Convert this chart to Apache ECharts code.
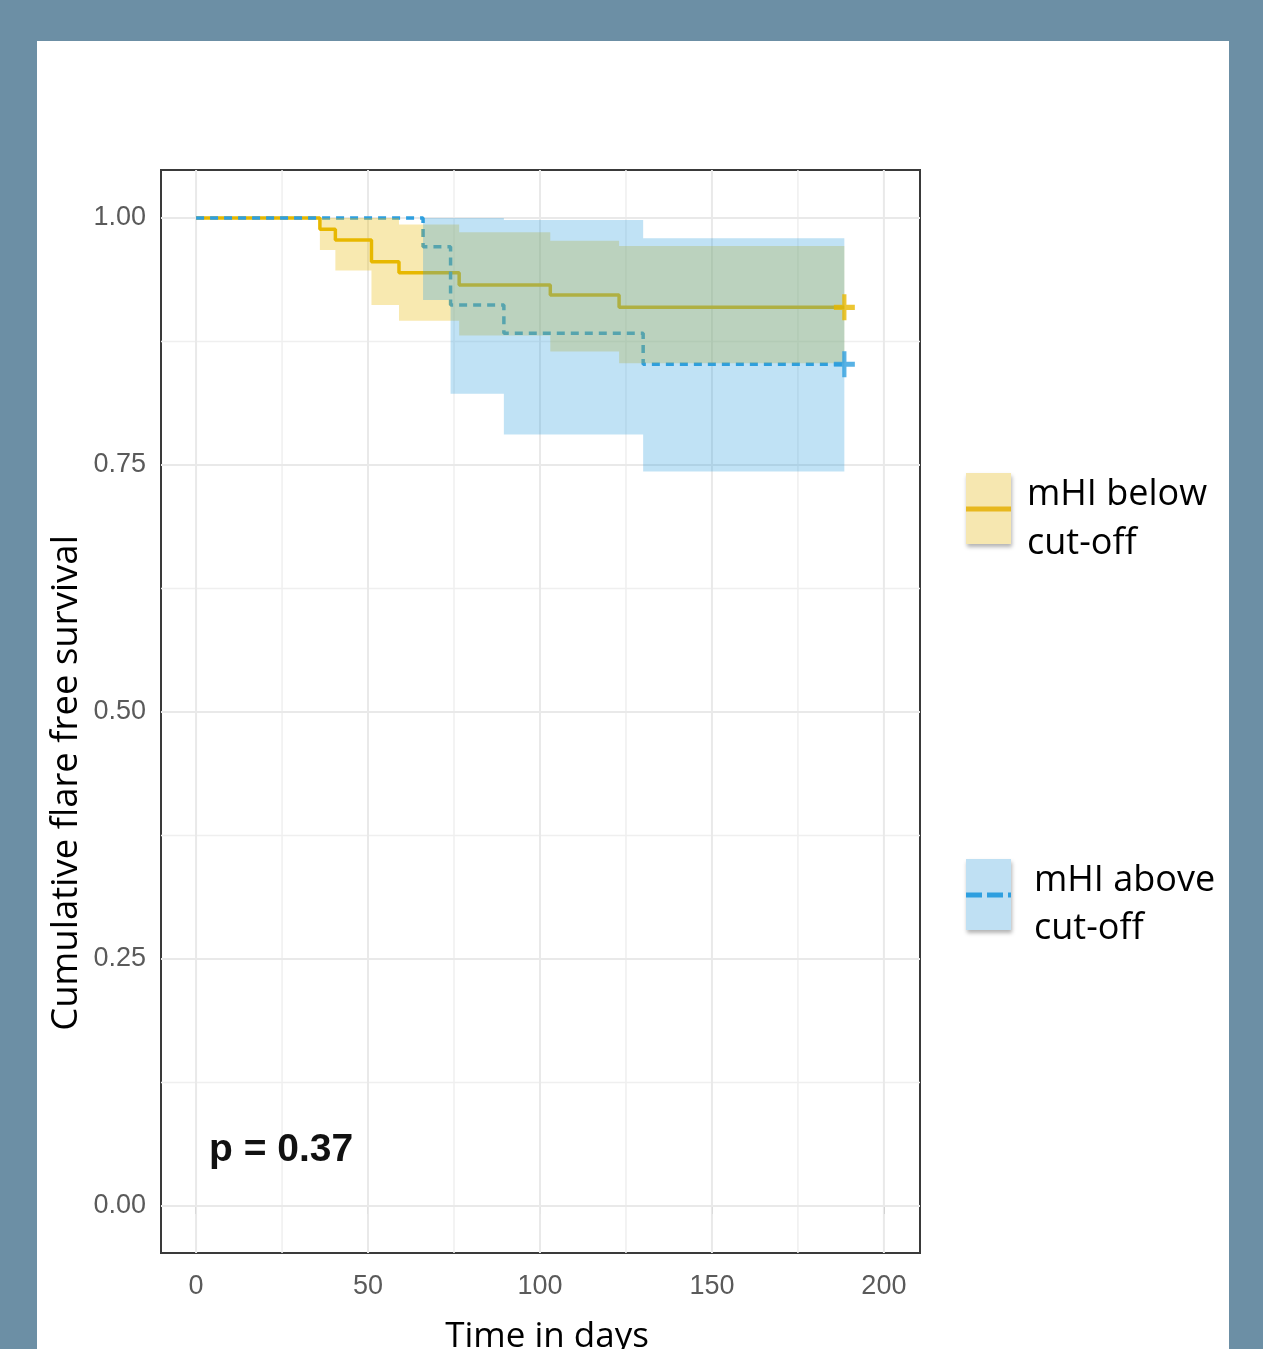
<!DOCTYPE html>
<html><head><meta charset="utf-8">
<script src="https://cdn.jsdelivr.net/npm/echarts@6/dist/echarts.min.js"></script>
<style>
html,body{margin:0;padding:0;background:#6c8fa5;width:1263px;height:1349px;overflow:hidden;}
#panel{position:absolute;left:37px;top:41px;width:1192px;height:1308px;background:#fff;}
#chart{position:absolute;left:0;top:0;width:1263px;height:1349px;}
</style></head><body>
<div id="panel"></div><div id="chart"></div>
<script>
// ---- data ----
const belowTimes = [0, 36, 40.5, 51, 59, 76.5, 103, 123, 188.5];
const belowSurv  = [1, 0.9886, 0.9777, 0.9558, 0.9446, 0.9322, 0.922, 0.9096, 0.9096];
const belowUpper = [1, 1, 1, 1, 0.9935, 0.9855, 0.977, 0.9717, 0.9717];
const belowLower = [1, 0.9676, 0.947, 0.912, 0.896, 0.881, 0.865, 0.853, 0.853];

const aboveTimes = [0, 66, 74, 89.5, 130, 188.5];
const aboveSurv  = [1, 0.971, 0.912, 0.8833, 0.852, 0.852];
const aboveUpper = [1, 1, 1, 0.998, 0.9795, 0.9795];
const aboveLower = [1, 0.917, 0.822, 0.781, 0.7435, 0.7435];

const censorTime = 188.5;

const xMajorTicks = [0, 50, 100, 150, 200];
const xMinorTicks = [25, 75, 125, 175];
const yMajorTicks = [0, 0.25, 0.5, 0.75, 1];
const yMinorTicks = [0.125, 0.375, 0.625, 0.875];
const yTickLabels = ['0.00', '0.25', '0.50', '0.75', '1.00'];

const seriesNames = ['mHI below cut-off', 'mHI above cut-off'];
const pValueText = 'p = 0.37';
const xTitle = 'Time in days';
const yTitle = 'Cumulative flare free survival';

// ---- styling ----
const X_MIN = -10.2, X_MAX = 210.5, Y_MIN = -0.0476, Y_MAX = 1.0486;
const YELLOW = '#E7B800', BLUE = '#2E9FDF';
const YELLOW_BAND = 'rgba(231,184,0,0.31)', BLUE_BAND = 'rgba(46,159,223,0.30)';
const TICK_FONT = "'Liberation Sans Narrow','Liberation Sans',Arial,sans-serif";
const TEXT_FONT = "'Open Sans','Noto Sans',sans-serif";

function pairs(ts, vs) { return ts.map((t, i) => [t, vs[i]]); }

function bandRender(times, upper, lower, color) {
  return function (params, api) {
    const pts = [];
    for (let i = 0; i < times.length - 1; i++) {
      pts.push(api.coord([times[i], upper[i]]));
      pts.push(api.coord([times[i + 1], upper[i]]));
    }
    for (let i = times.length - 2; i >= 0; i--) {
      pts.push(api.coord([times[i + 1], lower[i]]));
      pts.push(api.coord([times[i], lower[i]]));
    }
    return { type: 'polygon', shape: { points: pts }, style: { fill: color } };
  };
}

function vGrid(width, color) {
  return function (params, api) {
    const v = api.value(0);
    const a = api.coord([v, Y_MIN]), b = api.coord([v, Y_MAX]);
    return { type: 'line', shape: { x1: a[0], y1: a[1], x2: b[0], y2: b[1] }, style: { stroke: color, lineWidth: width } };
  };
}
function hGrid(width, color) {
  return function (params, api) {
    const v = api.value(1);
    const a = api.coord([X_MIN, v]), b = api.coord([X_MAX, v]);
    return { type: 'line', shape: { x1: a[0], y1: a[1], x2: b[0], y2: b[1] }, style: { stroke: color, lineWidth: width } };
  };
}

const plusPath = 'path://M0,4H10V6H0Z M4,0H6V10H4Z';

const chart = echarts.init(document.getElementById('chart'), null, { renderer: 'canvas' });
chart.setOption({
  backgroundColor: 'transparent',
  animation: false,
  grid: { left: 161, top: 170, right: 343, bottom: 96, show: true, borderColor: '#3a3a3a', borderWidth: 2, backgroundColor: 'transparent' },
  xAxis: {
    type: 'value', min: X_MIN, max: X_MAX,
    axisLine: { show: false },
    splitLine: { show: false },
    axisTick: { show: true, customValues: xMajorTicks, length: 8, lineStyle: { color: '#333', width: 2 } },
    axisLabel: { customValues: xMajorTicks, margin: 20, color: '#5a5a5a', fontFamily: TICK_FONT, fontSize: 27 }
  },
  yAxis: {
    type: 'value', min: Y_MIN, max: Y_MAX,
    axisLine: { show: false },
    splitLine: { show: false },
    axisTick: { show: true, customValues: yMajorTicks, length: 8, lineStyle: { color: '#333', width: 2 } },
    axisLabel: {
      customValues: yMajorTicks, margin: 15, color: '#5a5a5a', fontFamily: TICK_FONT, fontSize: 27,
      padding: [6, 0, 0, 0],
      formatter: v => { const i = yMajorTicks.findIndex(t => Math.abs(t - v) < 1e-9); return i >= 0 ? yTickLabels[i] : ''; }
    }
  },
  series: [
    { type: 'custom', silent: true, z: 1, data: xMinorTicks.map(v => [v, 0]), renderItem: vGrid(1.5, '#efefef') },
    { type: 'custom', silent: true, z: 1, data: yMinorTicks.map(v => [0, v]), renderItem: hGrid(1.5, '#efefef') },
    { type: 'custom', silent: true, z: 1, data: xMajorTicks.map(v => [v, 0]), renderItem: vGrid(2, '#e9e9e9') },
    { type: 'custom', silent: true, z: 1, data: yMajorTicks.map(v => [0, v]), renderItem: hGrid(2, '#e9e9e9') },
    { name: seriesNames[0], type: 'line', step: 'end', z: 2, showSymbol: false, silent: true,
      data: pairs(belowTimes, belowSurv), lineStyle: { color: YELLOW, width: 3.5 } },
    { name: seriesNames[1], type: 'line', step: 'end', z: 2, showSymbol: false, silent: true,
      data: pairs(aboveTimes, aboveSurv), lineStyle: { color: BLUE, width: 3.5, type: [8, 6] } },
    { type: 'custom', z: 3, silent: true, clip: true, data: [[belowTimes[0], belowSurv[0]]],
      renderItem: bandRender(belowTimes, belowUpper, belowLower, YELLOW_BAND) },
    { type: 'custom', z: 4, silent: true, clip: true, data: [[aboveTimes[0], aboveSurv[0]]],
      renderItem: bandRender(aboveTimes, aboveUpper, aboveLower, BLUE_BAND) },
    { type: 'scatter', z: 5, silent: true, symbol: plusPath, symbolSize: [21, 26],
      data: [[censorTime, belowSurv[belowSurv.length - 1]]], itemStyle: { color: YELLOW } },
    { type: 'scatter', z: 5, silent: true, symbol: plusPath, symbolSize: [21, 26],
      data: [[censorTime, aboveSurv[aboveSurv.length - 1]]], itemStyle: { color: BLUE } }
  ],
  graphic: [
    { type: 'text', x: 209, y: 1150, z: 10, style: { text: pValueText, fontFamily: TICK_FONT, fontWeight: 'bold', fontSize: 39, fill: '#111', verticalAlign: 'middle', align: 'left' } },
    { type: 'text', x: 547, y: 1337, z: 10, style: { text: xTitle, fontFamily: TEXT_FONT, fontSize: 35, fill: '#000', align: 'center', verticalAlign: 'middle' } },
    { type: 'text', x: 67, y: 783, rotation: Math.PI / 2, z: 10, style: { text: yTitle, fontFamily: TEXT_FONT, fontSize: 36.5, fill: '#000', align: 'center', verticalAlign: 'middle' } },
    // legend: below
    { type: 'rect', z: 10, shape: { x: 966, y: 473, width: 45, height: 71 }, style: { fill: '#f6e7b0', shadowBlur: 4, shadowOffsetX: 1, shadowOffsetY: 3, shadowColor: 'rgba(0,0,0,0.3)' } },
    { type: 'line', z: 11, shape: { x1: 966, y1: 509, x2: 1011, y2: 509 }, style: { stroke: '#e7b81e', lineWidth: 5 } },
    { type: 'text', z: 11, x: 1027, y: 495, style: { text: 'mHI below', fontFamily: TEXT_FONT, fontSize: 36, fill: '#000', verticalAlign: 'middle' } },
    { type: 'text', z: 11, x: 1027, y: 544, style: { text: 'cut-off', fontFamily: TEXT_FONT, fontSize: 36, fill: '#000', verticalAlign: 'middle' } },
    // legend: above
    { type: 'rect', z: 10, shape: { x: 966, y: 859, width: 45, height: 71 }, style: { fill: '#bfe0f3', shadowBlur: 4, shadowOffsetX: 1, shadowOffsetY: 3, shadowColor: 'rgba(0,0,0,0.3)' } },
    { type: 'line', z: 11, shape: { x1: 966, y1: 895, x2: 1011, y2: 895 }, style: { stroke: '#2e9fdf', lineWidth: 5, lineDash: [16, 5] } },
    { type: 'text', z: 11, x: 1034, y: 881, style: { text: 'mHI above', fontFamily: TEXT_FONT, fontSize: 36, fill: '#000', verticalAlign: 'middle' } },
    { type: 'text', z: 11, x: 1034, y: 929, style: { text: 'cut-off', fontFamily: TEXT_FONT, fontSize: 36, fill: '#000', verticalAlign: 'middle' } }
  ]
});
</script>
</body></html>
